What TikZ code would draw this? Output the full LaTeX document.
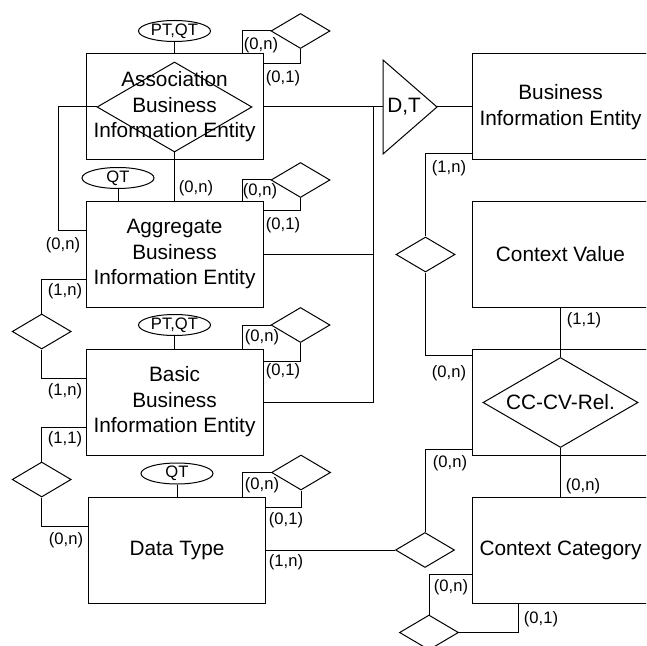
\documentclass[tikz,border=0pt]{standalone}
\usepackage{fontspec}
\setmainfont{Liberation Sans}
\usetikzlibrary{shapes.geometric}
\tikzset{
  entity/.style={draw,minimum width=88.5pt,minimum height=53pt,inner sep=0pt,align=center,font=\fontsize{10.4}{12.75}\selectfont},
  relation/.style={draw,diamond,minimum width=29.5pt,minimum height=17.5pt,inner sep=0pt},
  bigrel/.style={draw,diamond,minimum width=77.5pt,minimum height=45pt,inner sep=0pt},
  attr/.style={draw,ellipse,minimum width=36pt,minimum height=10.5pt,inner sep=0pt,font=\fontsize{8.3}{10}\selectfont},
  card/.style={inner sep=0pt,font=\fontsize{8.3}{10}\selectfont}
}

\begin{document}
\begin{tikzpicture}[x=0.5pt,y=-0.5pt,line width=0.5pt]
  \useasboundingbox (0,0) rectangle (646,646);
  \clip (0,0) rectangle (646,646);

  % left column
  \node[bigrel] (abierel) at (174.5,107) {};
  \node[entity] (abie) at (174.5,107) {Association\\Business\\Information Entity};
  \node[attr] (abieattr) at (174.5,31) {PT,QT};
  \node[relation] (abieself) at (300.5,31) {};

  \node[entity] (aggbie) at (174.5,254.5) {Aggregate\\Business\\Information Entity};
  \node[attr] (aggattr) at (118,178) {QT};
  \node[relation] (aggself) at (300.5,180) {};

  \node[relation] (aggbasrel) at (41.7,331.5) {};

  \node[entity] (bbie) at (174.5,402) {Basic\\Business\\Information Entity};
  \node[attr] (bbieattr) at (174.5,325) {PT,QT};
  \node[relation] (bbieself) at (300.5,325) {};

  \node[relation] (basdtrel) at (41.7,479.5) {};

  \node[entity] (dtype) at (177,550) {Data Type};
  \node[attr] (dtattr) at (177,473.5) {QT};
  \node[relation] (dtself) at (301,472.5) {};

  % right column
  \node[entity] (bie) at (560.5,107) {Business\\Information Entity};
  \node[entity] (cval) at (560.5,254.5) {Context Value};
  \node[bigrel] (ccvrel) at (560.5,402.5) {};
  \node[entity] (ccvbox) at (560.5,402) {CC-CV-Rel.};
  \node[entity] (ccat) at (560.5,550) {Context Category};

  \node[relation] (biecvrel) at (425.5,254.5) {};
  \node[relation] (dtccrel) at (425,550) {};
  \node[relation] (ccself) at (429,632.5) {};

  % specialisation
  \coordinate (dtleft) at (383,107);
  \coordinate (dttip) at (437,107);
  \coordinate (bus) at (373,107);
  \draw (383,60) -- (dttip) -- (383,154) -- cycle;
  \node[inner sep=0pt,font=\fontsize{10.4}{12.75}\selectfont] (dtlabel) at (404,107) {D,T};

  % connectors
  \draw (abieattr) -- (abie.north);
  \draw (aggattr) -- (aggattr |- aggbie.north);
  \draw (bbieattr) -- (bbie.north);
  \draw (dtattr) -- (dtype.north);

  \draw ([xshift=-10.5pt]abie.north east) |- (abieself.west);
  \draw ([yshift=-5pt]abie.north east) -| (abieself.south);
  \draw ([xshift=-10.5pt]aggbie.north east) |- (aggself.west);
  \draw ([yshift=-5pt]aggbie.north east) -| (aggself.south);
  \draw ([xshift=-10.5pt]bbie.north east) |- (bbieself.west);
  \draw ([yshift=-6.5pt]bbie.north east) -| (bbieself.south);
  \draw ([xshift=-12pt]dtype.north east) |- (dtself.west);
  \draw ([yshift=-5.5pt]dtype.north east) -| (dtself.south);

  \draw (abierel.south) -- (abierel.south |- aggbie.north);
  \draw (abierel.west) -- ++(-38,0) |- ([yshift=11.75pt]aggbie.west);
  \draw ([yshift=-12.25pt]aggbie.west) -| (aggbasrel.north);
  \draw (aggbasrel.south) |- ([yshift=12pt]bbie.west);
  \draw ([yshift=-12.5pt]bbie.west) -| (basdtrel.north);
  \draw (basdtrel.south) |- ([yshift=12pt]dtype.west);

  \draw (abie.east) -- (dtleft);
  \draw (aggbie.east) -| (bus);
  \draw (bbie.east) -| (bus);
  \draw (dttip) -- (bie.west);

  \draw ([yshift=-23.5pt]bie.west) -| (biecvrel.north);
  \draw (biecvrel.south) |- ([yshift=23.5pt]ccvbox.west);
  \draw (cval.south) -- (ccvrel.north);
  \draw (ccvrel.south) -- (ccat.north);
  \draw (dtype.east) -- (dtccrel.west);
  \draw (dtccrel.north) |- ([yshift=-23.5pt]ccvbox.west);
  \draw ([yshift=-12pt]ccat.west) -| (ccself.north);
  \draw (ccself.east) -| ([xshift=-21.25pt]ccat.south);

  % cardinalities
  \node[card] (k1) at (261,45) {(0,n)};
  \node[card] (k2) at (283,78) {(0,1)};
  \node[card] (k3) at (196,188) {(0,n)};
  \node[card] (k4) at (63,245) {(0,n)};
  \node[card] (k5) at (260,191) {(0,n)};
  \node[card] (k6) at (283,225) {(0,1)};
  \node[card] (k7) at (65,291) {(1,n)};
  \node[card] (k8) at (65,391) {(1,n)};
  \node[card] (k9) at (262,337) {(0,n)};
  \node[card] (k10) at (283,371) {(0,1)};
  \node[card] (k11) at (65,439) {(1,1)};
  \node[card] (k12) at (66,540) {(0,n)};
  \node[card] (k13) at (262,485) {(0,n)};
  \node[card] (k14) at (286,520) {(0,1)};
  \node[card] (k15) at (286,562) {(1,n)};
  \node[card] (k16) at (449,168) {(1,n)};
  \node[card] (k17) at (584,320) {(1,1)};
  \node[card] (k18) at (449,373) {(0,n)};
  \node[card] (k19) at (450,463) {(0,n)};
  \node[card] (k20) at (583,486) {(0,n)};
  \node[card] (k21) at (451,587) {(0,n)};
  \node[card] (k22) at (541,619) {(0,1)};
\end{tikzpicture}
\end{document}
